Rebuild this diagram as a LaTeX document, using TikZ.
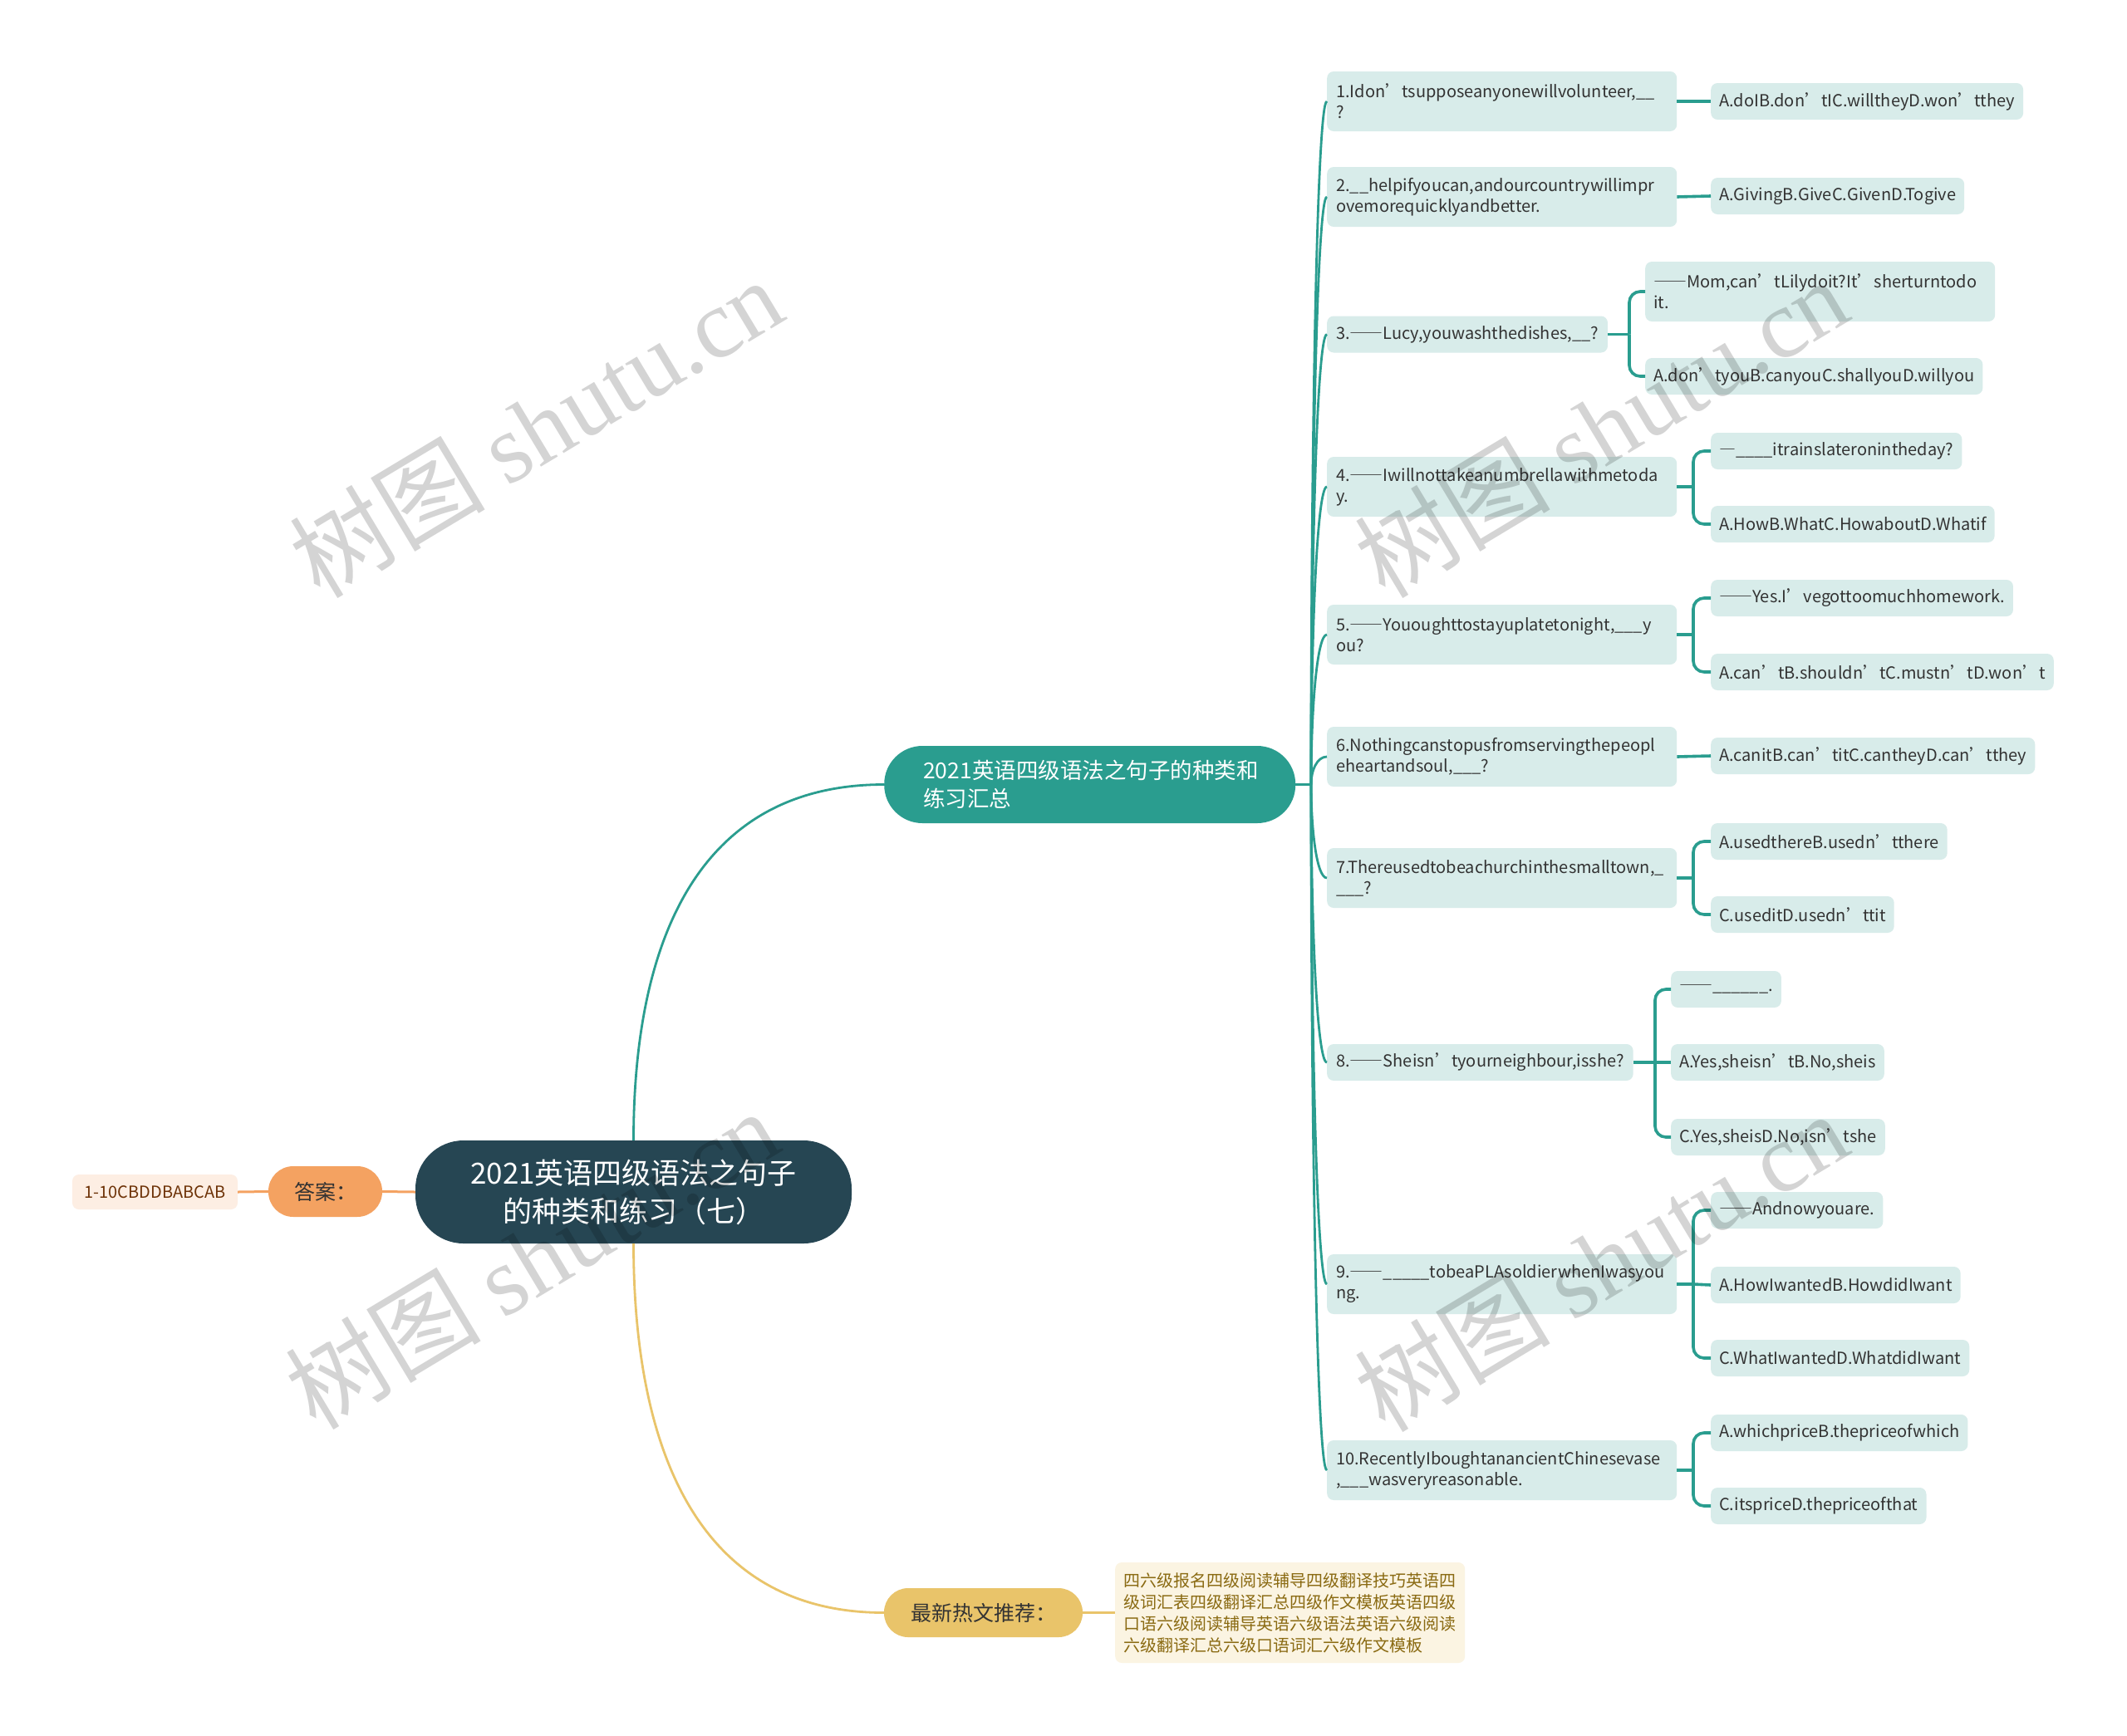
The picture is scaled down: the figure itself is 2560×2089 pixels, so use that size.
\documentclass[tikz,border=0pt]{standalone}
\usepackage{fontspec}
\setmainfont{Noto Sans CJK SC}
\newfontfamily\wmlatin{Liberation Serif}
\newfontfamily\fwfont[RawFeature=+fwid]{Noto Sans CJK SC}
\newcommand\dsh{{\fwfont —}}
\usetikzlibrary{calc}
\definecolor{rootc}{HTML}{264653}
\definecolor{tealc}{HTML}{2A9D8F}
\definecolor{linec}{HTML}{2A9D8F}
\definecolor{leafc}{HTML}{D8ECEA}
\definecolor{orc}{HTML}{F4A261}
\definecolor{orleaf}{HTML}{FDEEE3}
\definecolor{ortext}{HTML}{6E3308}
\definecolor{yelc}{HTML}{E9C46A}
\definecolor{yelleaf}{HTML}{FBF4E2}
\definecolor{yeltext}{HTML}{8A6A12}
\definecolor{txt}{HTML}{333333}
\begin{document}
\begin{tikzpicture}[x=1pt,y=-1pt,
  leafbox/.style={fill=leafc, rounded corners=8pt, inner xsep=10pt, inner ysep=0pt,
    minimum height=44pt, anchor=west, align=left, text=txt,
    font=\fontsize{20}{25}\selectfont},
  leaftwo/.style={leafbox, minimum height=72pt, text width=401pt},
  qbox/.style={leafbox, inner xsep=11pt, text width=399pt, minimum height=72pt},
  qboxs/.style={leafbox, inner xsep=11pt},
  fan/.style={draw=linec, line width=2.8pt},
  sub/.style={draw=linec, line width=3.6pt, rounded corners=13pt},
  wm/.style={text=black, opacity=0.17, rotate=31, inner sep=0pt,
    font=\fontsize{118}{118}\selectfont}
]
\useasboundingbox (0,0) rectangle (2560,2089);
\fill[white] (0,0) rectangle (2560,2089);

% root and main branches
\node[fill=rootc, rounded corners=58pt, minimum width=525pt, minimum height=124pt,
  align=center, text=white, font=\fontsize{35}{46}\selectfont, inner sep=0pt]
  (root) at (762.5,1435) {2021英语四级语法之句子\\的种类和练习（七）};
\node[fill=tealc, rounded corners=46pt, minimum height=93pt, inner xsep=47pt, inner ysep=0pt,
  text width=401pt, align=left, text=white, font=\fontsize{26.5}{34}\selectfont, anchor=west]
  (b1) at (1064,944.5) {2021英语四级语法之句子的种类和\\练习汇总};
\node[fill=orc, rounded corners=30pt, minimum width=137pt, minimum height=61pt, inner sep=0pt,
  text=txt, font=\fontsize{25}{30}\selectfont] (ans) at (391.5,1434.5) {答案：};
\node[fill=orleaf, rounded corners=8pt, minimum width=199pt, minimum height=42pt, inner sep=0pt,
  text=ortext, font=\fontsize{20}{25}\selectfont] (ansleaf) at (186.5,1435) {1-10CBDDBABCAB};
\node[fill=yelc, rounded corners=29pt, minimum width=239pt, minimum height=59pt, inner sep=0pt,
  text=txt, font=\fontsize{25}{30}\selectfont] (hot) at (1183.5,1941.5) {最新热文推荐：};
\node[fill=yelleaf, rounded corners=8pt, minimum height=121pt, inner xsep=10pt, inner ysep=0pt,
  text width=401pt, align=left, anchor=west, text=yeltext, font=\fontsize{20}{26}\selectfont]
  (hotleaf) at (1342,1941.5) {四六级报名四级阅读辅导四级翻译技巧英语四\\级词汇表四级翻译汇总四级作文模板英语四级\\口语六级阅读辅导英语六级语法英语六级阅读\\六级翻译汇总六级口语词汇六级作文模板};

% questions
\node[qbox] (q1) at (1597,122) {1.Idon’tsupposeanyonewillvolunteer,\_\_\\?};
\node[qbox] (q2) at (1597,237) {2.\_\_helpifyoucan,andourcountrywillimpr\\ovemorequicklyandbetter.};
\node[qboxs] (q3) at (1597,402.5) {3.\dsh\dsh Lucy,youwashthedishes,\_\_?};
\node[qbox] (q4) at (1597,586) {4.\dsh\dsh Iwillnottakeanumbrellawithmetoda\\y.};
\node[qbox] (q5) at (1597,764) {5.\dsh\dsh Yououghttostayuplatetonight,\_\_\_y\\ou?};
\node[qbox] (q6) at (1597,911) {6.Nothingcanstopusfromservingthepeopl\\eheartandsoul,\_\_\_?};
\node[qbox] (q7) at (1597,1057) {7.Thereusedtobeachurchinthesmalltown,\_\\\_\_\_?};
\node[qboxs] (q8) at (1597,1279) {8.\dsh\dsh Sheisn’tyourneighbour,isshe?};
\node[qbox] (q9) at (1597,1546) {9.\dsh\dsh\_\_\_\_\_tobeaPLAsoldierwhenIwasyou\\ng.};
\node[qbox] (q10) at (1597,1770) {10.RecentlyIboughtanancientChinesevase\\,\_\_\_wasveryreasonable.};

% answers
\node[leafbox] (c1) at (2059,122) {A.doIB.don’tIC.willtheyD.won’tthey};
\node[leafbox] (c2) at (2059,236) {A.GivingB.GiveC.GivenD.Togive};
\node[leaftwo] (c31) at (1980,351) {\dsh\dsh Mom,can’tLilydoit?It’sherturntodo\\it.};
\node[leafbox] (c32) at (1980,453) {A.don’tyouB.canyouC.shallyouD.willyou};
\node[leafbox] (c41) at (2059,543) {\dsh\_\_\_\_itrainslateronintheday?};
\node[leafbox] (c42) at (2059,631) {A.HowB.WhatC.HowaboutD.Whatif};
\node[leafbox] (c51) at (2059,720) {\dsh\dsh Yes.I’vegottoomuchhomework.};
\node[leafbox] (c52) at (2059,809) {A.can’tB.shouldn’tC.mustn’tD.won’t};
\node[leafbox] (c6) at (2059,910) {A.canitB.can’titC.cantheyD.can’tthey};
\node[leafbox] (c71) at (2059,1013) {A.usedthereB.usedn’tthere};
\node[leafbox] (c72) at (2059,1101) {C.useditD.usedn’ttit};
\node[leafbox] (c81) at (2011,1191) {\dsh\dsh\_\_\_\_\_\_.};
\node[leafbox] (c82) at (2011,1279) {A.Yes,sheisn’tB.No,sheis};
\node[leafbox] (c83) at (2011,1369) {C.Yes,sheisD.No,isn’tshe};
\node[leafbox] (c91) at (2059,1457) {\dsh\dsh Andnowyouare.};
\node[leafbox] (c92) at (2059,1547) {A.HowIwantedB.HowdidIwant};
\node[leafbox] (c93) at (2059,1635) {C.WhatIwantedD.WhatdidIwant};
\node[leafbox] (c101) at (2059,1725) {A.whichpriceB.thepriceofwhich};
\node[leafbox] (c102) at (2059,1813) {C.itspriceD.thepriceofthat};

% root connectors
\draw[draw=linec, line width=2.8pt] (root.north) .. controls (762.5,1150) and (830,944.5) .. (b1.west);
\draw[draw=yelc, line width=2.8pt] (root.south) .. controls (762.5,1728) and (830,1941.5) .. (hot.west);
\draw[draw=orc, line width=3pt] (root.west) -- (ans.east);
\draw[draw=orc, line width=3pt] (ans.west) -- (ansleaf.east);
\draw[draw=yelc, line width=3pt] (hot.east) -- (hotleaf.west);

% fan from branch to questions
\coordinate (tr) at (1578,944.5);
\draw[fan] (b1.east) -- (tr);
\foreach \q in {q1,q2,q3,q4,q5,q6,q7,q8,q9,q10}{
  \draw[fan] (tr) .. controls ($(tr)!0.5!(tr |- \q.west)$) and ($(\q.west)+(-12,0)$) .. (\q.west);
}

% question to answers
\draw[sub] (q1.east) -- (c1.west);
\draw[sub] (q2.east) -- (c2.west);
\draw[sub] (q6.east) -- (c6.west);
\coordinate (e3) at ($(q3.east -| c31.west)+(-19,0)$);
\draw[sub] (q3.east) -- (e3);
\draw[sub] (e3) |- (c31.west);
\draw[sub] (e3) |- (c32.west);
\coordinate (e4) at ($(q4.east -| c41.west)+(-21,0)$);
\draw[sub] (q4.east) -- (e4);
\draw[sub] (e4) |- (c41.west);
\draw[sub] (e4) |- (c42.west);
\coordinate (e5) at ($(q5.east -| c51.west)+(-21,0)$);
\draw[sub] (q5.east) -- (e5);
\draw[sub] (e5) |- (c51.west);
\draw[sub] (e5) |- (c52.west);
\coordinate (e7) at ($(q7.east -| c71.west)+(-21,0)$);
\draw[sub] (q7.east) -- (e7);
\draw[sub] (e7) |- (c71.west);
\draw[sub] (e7) |- (c72.west);
\coordinate (e8) at ($(q8.east -| c81.west)+(-19,0)$);
\draw[sub] (q8.east) -- (e8);
\draw[sub] (e8) |- (c81.west);
\draw[sub] (e8) -- (c82.west);
\draw[sub] (e8) |- (c83.west);
\coordinate (e9) at ($(q9.east -| c91.west)+(-21,0)$);
\draw[sub] (q9.east) -- (e9);
\draw[sub] (e9) |- (c91.west);
\draw[sub] (e9) -- (c92.west);
\draw[sub] (e9) |- (c93.west);
\coordinate (e10) at ($(q10.east -| c101.west)+(-21,0)$);
\draw[sub] (q10.east) -- (e10);
\draw[sub] (e10) |- (c101.west);
\draw[sub] (e10) |- (c102.west);

% watermarks
\node[wm] (wm1) at (645,514) {树图 {\wmlatin shutu.cn}};
\node[wm] (wm2) at (1927,514) {树图 {\wmlatin shutu.cn}};
\node[wm] (wm3) at (640,1515) {树图 {\wmlatin shutu.cn}};
\node[wm] (wm4) at (1927,1518) {树图 {\wmlatin shutu.cn}};
\end{tikzpicture}
\end{document}
